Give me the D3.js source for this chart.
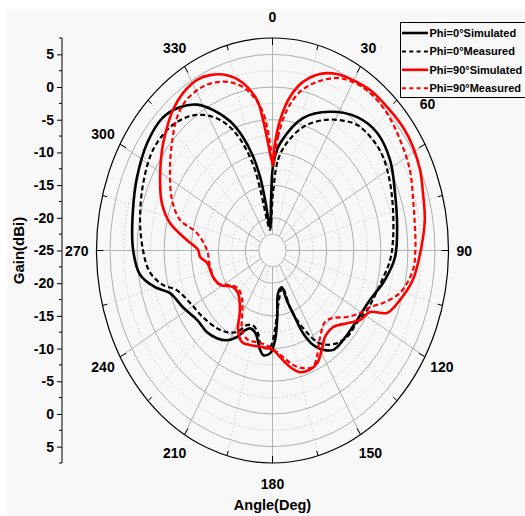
<!DOCTYPE html>
<html>
<head>
<meta charset="utf-8">
<script src="https://cdn.jsdelivr.net/npm/d3@7"></script>
<style>
  html, body { margin: 0; padding: 0; background: #ffffff; }
  svg { display: block; }
  text { font-family: "Liberation Sans", Arial, sans-serif; font-weight: bold; fill: #000; }
</style>
</head>
<body>
<svg id="chart" width="525" height="516"></svg>
<script>
// Radiation pattern samples: angle in degrees (clockwise from 0 at top), gain in dBi
const phi0SimAngle = [0, 2, 5, 15.5, 26.5, 37.5, 47, 57.5, 68.5, 81, 92.5, 102.5, 113, 124, 136, 143.5, 148.5, 152.5, 156, 158.5, 161, 163, 171, 175, 178, 181.5, 186, 188.5, 194, 199, 202.5, 206.5, 211.5, 217.5, 224, 232.5, 242.5, 251, 255.5, 261.5, 271, 283.5, 294, 305.5, 315, 322, 328, 333, 338.5, 342.5, 346, 348.5, 350, 353, 358];
const phi0SimGain  = [-12.7, -10.4, -8.5, -4.0, -1.3, 0.7, 1.4, 0.75, -0.7, -1.7, -2.35, -3.8, -5.5, -6.1, -6.1, -6.1, -7.2, -8.7, -11.2, -14.7, -17.0, -19.1, -18.4, -14.8, -11.3, -9.3, -8.9, -9.6, -12.0, -12.4, -11.8, -10.2, -8.9, -8.1, -7.6, -7.5, -6.3, -5.0, -2.6, -0.24, 0.8, 1.5, 2.4, 3.4, 3.7, 2.8, 1.3, -0.9, -3.8, -6.8, -10.2, -13.5, -17.2, -21.4, -17.3];

const phi0MeasAngle = [0.6, 4.2, 9.2, 16.6, 25, 32, 39, 47.7, 55, 64.5, 74.4, 86, 94, 105, 117.5, 125.5, 134, 140, 145, 149.5, 153, 157, 159.6, 160.5, 162.6, 173.4, 178, 181.8, 185.4, 189.3, 192, 197.5, 202.4, 207.7, 214, 220.8, 231.6, 242.2, 251.1, 255.4, 261.7, 270, 280.8, 293.4, 304.9, 315, 322.3, 328.2, 334.1, 338.4, 342.2, 345.3, 346.7, 348, 351.7];
const phi0MeasGain  = [-16.2, -11.1, -8.3, -5.3, -3.0, -1.5, -0.26, 0.1, -0.08, -0.95, -1.9, -2.7, -3.25, -4.5, -5.3, -5.9, -5.9, -6.5, -7.4, -8.75, -10.9, -13.5, -15.8, -18.5, -19.1, -16.3, -12.8, -10.2, -10.0, -10.7, -12.1, -13.0, -12.65, -10.9, -9.95, -9.3, -8.6, -7.8, -6.3, -4.1, -2.1, -1.1, -0.1, 1.0, 1.9, 1.7, 0.8, -0.6, -2.8, -5.2, -8.4, -12.3, -16.6, -20.5, -21.8];

const phi90SimAngle = [0, 1.6, 4, 7.8, 12.3, 18, 23.8, 29.7, 36.3, 44, 51.9, 58.6, 65.7, 72.4, 80.6, 88.9, 99.9, 107.8, 114.3, 117.6, 123.3, 128.9, 136.3, 143.8, 149, 154.4, 159.2, 164.7, 169.7, 175.1, 179.6, 186.8, 196, 201.9, 207.7, 213.5, 224.4, 232.5, 241.4, 249.7, 261, 265.7, 270.4, 275.8, 282.5, 289.6, 298.4, 307, 314.1, 319.5, 325.5, 331.9, 336.7, 342.6, 348, 352.9, 355, 357.1];
const phi90SimGain  = [-11.6, -8.55, -5.0, -1.3, 1.4, 3.4, 4.5, 5.0, 5.45, 5.5, 5.6, 5.4, 4.9, 4.15, 3.5, 2.5, 1.3, -0.27, -1.8, -4.7, -5.65, -7.3, -8.8, -8.6, -7.3, -5.9, -5.5, -5.7, -6.9, -8.65, -9.8, -10.1, -9.95, -9.9, -11.3, -14.1, -15.9, -15.8, -14.0, -13.3, -12.8, -11.6, -11.25, -9.1, -5.6, -3.3, -1.4, 0.55, 2.1, 3.3, 4.2, 4.6, 4.2, 3.1, 1.2, -1.8, -4.95, -8.5];

const phi90MeasAngle = [0.4, 3.3, 7.1, 11.8, 17.7, 24.3, 30, 36.8, 45.2, 54.3, 64.1, 73.4, 82.2, 89, 96.6, 105.4, 111.5, 115.6, 120.6, 126.5, 132.8, 138.4, 146.4, 153.2, 157.2, 162.6, 167.8, 173.2, 181.8, 189.3, 198.3, 204.8, 209, 216.6, 228.1, 238, 244.1, 257.6, 270.3, 280.8, 285.3, 292.6, 303.1, 311.5, 319, 324.6, 331.7, 336.8, 343.1, 349.1, 354.8, 358.4];
const phi90MeasGain  = [-12.2, -7.6, -3.35, -0.2, 2.05, 3.95, 4.75, 5.1, 4.8, 4.0, 3.2, 2.1, 1.55, 1.4, 1.1, -0.6, -3.1, -5.0, -6.2, -7.9, -9.8, -10.4, -9.1, -6.8, -5.7, -6.15, -7.1, -8.6, -10.2, -10.7, -10.6, -11.6, -13.4, -15.6, -16.4, -15.1, -13.6, -13.2, -12.9, -10.8, -7.3, -4.9, -2.4, -0.2, 1.9, 2.9, 3.2, 2.9, 1.9, 0.0, -3.4, -8.55];

const angleTickLabels = ["0", "30", "60", "90", "120", "150", "180", "210", "240", "270", "300", "330"];
const gainTickLabels = ["5", "0", "-5", "-10", "-15", "-20", "-25", "-20", "-15", "-10", "-5", "0", "5"];
const legendLabels = ["Phi=0°Simulated", "Phi=0°Measured", "Phi=90°Simulated", "Phi=90°Measured"];

// Layout of the elliptical polar frame
const W = 525, H = 516;
const cx = 272.5, cy = 250.5, Rx = 176, Ry = 212.5;
const gainMin = -25, gainMax = 7.5;

const svg = d3.select("#chart");

svg.append("rect").attr("x", 7).attr("y", 9).attr("width", W - 7).attr("height", H - 9)
  .attr("fill", "#f8f8f8");

// normalised radius for a gain value
const rScale = d3.scaleLinear().domain([gainMin, gainMax]).range([0, 1]);
const px = (deg, g) => cx + Rx * rScale(g) * Math.sin(deg * Math.PI / 180);
const py = (deg, g) => cy - Ry * rScale(g) * Math.cos(deg * Math.PI / 180);

const grid = svg.append("g");

function ring(g) {
  const k = rScale(g);
  return grid.append("ellipse").attr("cx", cx).attr("cy", cy)
    .attr("rx", Rx * k).attr("ry", Ry * k).attr("fill", "none");
}

// dashed minor rings
d3.range(-17.5, 5, 5).forEach(g => {
  ring(g).attr("stroke", "#c9c9c9").attr("stroke-width", 0.8).attr("stroke-dasharray", "2,2");
});
// centre disc
ring(-22.5).attr("fill", "#f8f8f8").attr("stroke", "#a8a8a8").attr("stroke-width", 0.8);

// spokes
const innerG = -22.5;
d3.range(15, 360, 30).forEach(a => {
  grid.append("line")
    .attr("x1", px(a, innerG)).attr("y1", py(a, innerG))
    .attr("x2", px(a, gainMax)).attr("y2", py(a, gainMax))
    .attr("stroke", "#cdcdcd").attr("stroke-width", 0.8).attr("stroke-dasharray", "2,2");
});
d3.range(0, 360, 30).forEach(a => {
  grid.append("line")
    .attr("x1", px(a, innerG)).attr("y1", py(a, innerG))
    .attr("x2", px(a, gainMax)).attr("y2", py(a, gainMax))
    .attr("stroke", "#a0a0a0").attr("stroke-width", 0.8);
});
// solid major rings
d3.range(-20, 6, 5).forEach(g => {
  ring(g).attr("stroke", "#a6a6a6").attr("stroke-width", 0.9);
});

// outer frame
grid.append("ellipse").attr("cx", cx).attr("cy", cy).attr("rx", Rx).attr("ry", Ry)
  .attr("fill", "none").attr("stroke", "#000").attr("stroke-width", 1.2);

// angular ticks pointing inward
d3.range(0, 360, 15).forEach(a => {
  const len = (a % 30 === 0) ? 7 : 5;
  const s = Math.sin(a * Math.PI / 180), c = Math.cos(a * Math.PI / 180);
  const x1 = cx + Rx * s, y1 = cy - Ry * c;
  grid.append("line").attr("x1", x1).attr("y1", y1)
    .attr("x2", x1 - len * s).attr("y2", y1 + len * c)
    .attr("stroke", "#000").attr("stroke-width", 1);
});

// angle labels; the 60 label sits higher and further in, just under the legend box
const angleLabelNudge = { "60": [-11, -30] };
angleTickLabels.forEach((lab, i) => {
  const a = i * 30;
  const s = Math.sin(a * Math.PI / 180), c = Math.cos(a * Math.PI / 180);
  const half = lab.length * 3.9;
  const nudge = angleLabelNudge[lab] || [0, 0];
  svg.append("text")
    .attr("x", cx + (Rx + 8 + half) * s + nudge[0])
    .attr("y", cy - (Ry + 21) * c + nudge[1])
    .attr("text-anchor", "middle").attr("dominant-baseline", "central")
    .attr("font-size", 14).text(lab);
});

// traces
const series = [
  { a: phi0SimAngle,  g: phi0SimGain,  color: "#000000", dash: null,  w: 2.6 },
  { a: phi0MeasAngle, g: phi0MeasGain, color: "#000000", dash: "5,3", w: 2.2 },
  { a: phi90SimAngle, g: phi90SimGain, color: "#ff0000", dash: null,  w: 2.6 },
  { a: phi90MeasAngle,g: phi90MeasGain,color: "#ff0000", dash: "5,3", w: 2.2 }
];
const line = d3.line()
  .x(d => px(d[0], d[1]))
  .y(d => py(d[0], d[1]))
  .curve(d3.curveCatmullRomClosed.alpha(0.5));
const traces = svg.append("g");
series.forEach(s => {
  const pts = s.a.map((a, i) => [a, s.g[i]]);
  traces.append("path").attr("d", line(pts))
    .attr("fill", "none").attr("stroke", s.color).attr("stroke-width", s.w)
    .attr("stroke-linejoin", "round")
    .attr("stroke-dasharray", s.dash);
});

// left gain axis (mirrored about the centre)
const axisX = 62;
const yAxisScale = d3.scaleLinear().domain([32.5, -32.5]).range([cy - Ry, cy + Ry]);
const ax = svg.append("g").attr("transform", `translate(${axisX},0)`)
  .call(d3.axisLeft(yAxisScale)
    .tickValues(d3.range(30, -31, -5))
    .tickFormat((d, i) => gainTickLabels[i])
    .tickSize(5).tickPadding(3));
ax.select(".domain").attr("stroke", "#000").attr("stroke-width", 1)
  .attr("d", `M0,${cy - Ry}V${cy + Ry}`);
ax.selectAll(".tick line").attr("stroke", "#000");
ax.selectAll(".tick text").attr("font-size", 14).attr("font-family", "Liberation Sans, Arial, sans-serif")
  .attr("font-weight", "bold").attr("fill", "#000");
d3.range(32.5, -33, -5).forEach(v => {
  svg.append("line").attr("x1", axisX - 3).attr("x2", axisX)
    .attr("y1", yAxisScale(v)).attr("y2", yAxisScale(v))
    .attr("stroke", "#000").attr("stroke-width", 1);
});

// axis titles
svg.append("text").attr("transform", `translate(18,${cy}) rotate(-90)`)
  .attr("text-anchor", "middle").attr("dominant-baseline", "central")
  .attr("font-size", 15).text("Gain(dBi)");
svg.append("text").attr("x", cx).attr("y", 505)
  .attr("text-anchor", "middle").attr("dominant-baseline", "central")
  .attr("font-size", 14.5).text("Angle(Deg)");

// legend
const lg = svg.append("g");
lg.append("rect").attr("x", 400.5).attr("y", 22.5).attr("width", 140).attr("height", 75)
  .attr("fill", "#f8f8f8").attr("stroke", "#000").attr("stroke-width", 1);
legendLabels.forEach((lab, i) => {
  const s = series[i];
  const y = 33 + i * 18.4;
  lg.append("line").attr("x1", 402).attr("x2", 428).attr("y1", y).attr("y2", y)
    .attr("stroke", s.color).attr("stroke-width", s.dash ? 2 : 2.6)
    .attr("stroke-dasharray", s.dash ? "4,3.3" : null);
  lg.append("text").attr("x", 429.5).attr("y", y).attr("dominant-baseline", "central")
    .attr("font-size", 11).text(lab);
});
</script>
</body>
</html>
